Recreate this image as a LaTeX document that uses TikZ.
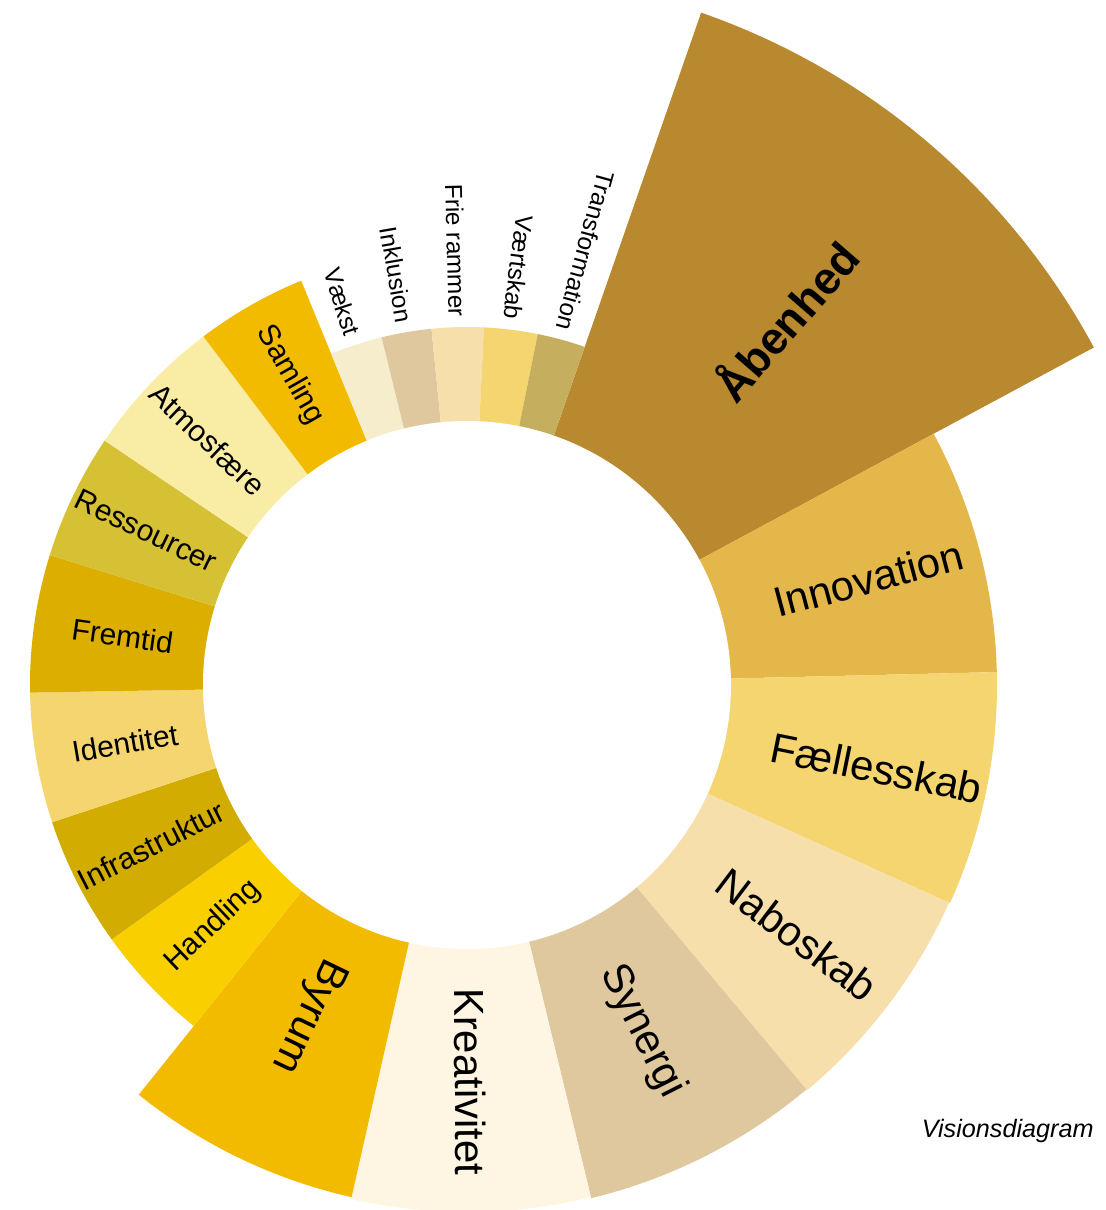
\documentclass[tikz,border=0pt]{standalone}
\usepackage{fontspec}
\setmainfont{Liberation Sans}
\usepackage{tikz}
\usetikzlibrary{calc}

\definecolor{abenhedcol}{HTML}{B8892E}
\definecolor{innovationcol}{HTML}{E3B749}
\definecolor{faellesskabcol}{HTML}{F4D56F}
\definecolor{naboskabcol}{HTML}{F6DFAB}
\definecolor{synergicol}{HTML}{DFC89E}
\definecolor{kreativitetcol}{HTML}{FEF6E2}
\definecolor{byrumcol}{HTML}{F3BB00}
\definecolor{handlingcol}{HTML}{F9CF00}
\definecolor{infracol}{HTML}{D2AC00}
\definecolor{identitetcol}{HTML}{F4D56F}
\definecolor{fremtidcol}{HTML}{DBAE00}
\definecolor{ressourcercol}{HTML}{D6C033}
\definecolor{atmosfaerecol}{HTML}{F9EDA5}
\definecolor{samlingcol}{HTML}{F3BB00}
\definecolor{vaekstcol}{HTML}{F6EDCC}
\definecolor{inklusioncol}{HTML}{DFC89E}
\definecolor{frierammercol}{HTML}{F6DFAB}
\definecolor{vaertskabcol}{HTML}{F4D56F}
\definecolor{transformationcol}{HTML}{C5AF5F}

\begin{document}
\begin{tikzpicture}[x=0.5pt, y=0.5pt]
        \tikzstyle{toplabel} = [font=\bfseries\fontsize{22.5}{26}\selectfont, inner sep=0pt]
        \tikzstyle{biglabel} = [font=\fontsize{21}{24}\selectfont, inner sep=0pt]
        \tikzstyle{midlabel} = [font=\fontsize{15}{18}\selectfont, inner sep=0pt]
        \tikzstyle{smalllabel} = [font=\fontsize{12.2}{14}\selectfont, inner sep=0pt, anchor=east]
        \useasboundingbox (-467,-525) rectangle (639,685);

        % large sectors
        \fill [abenhedcol] (0,0) -- (70.8:712) arc [start angle=70.8, end angle=28.3, radius=712] -- cycle;
        \fill [innovationcol] (0,0) -- (28.3:530) arc [start angle=28.3, end angle=1.4, radius=530] -- cycle;
        \fill [faellesskabcol] (0,0) -- (1.4:530) arc [start angle=1.4, end angle=-24.3, radius=530] -- cycle;
        \fill [naboskabcol] (0,0) -- (-24.3:529) arc [start angle=-24.3, end angle=-50, radius=529] -- cycle;
        \fill [synergicol] (0,0) -- (-50:528) arc [start angle=-50, end angle=-76.4, radius=528] -- cycle;
        \fill [kreativitetcol] (0,0) -- (-76.4:527) arc [start angle=-76.4, end angle=-102.7, radius=527] -- cycle;
        \fill [byrumcol] (0,0) -- (-102.7:525) arc [start angle=-102.7, end angle=-128.7, radius=525] -- cycle;

        % middle sectors
        \fill [handlingcol] (0,0) -- (-128.7:437) arc [start angle=-128.7, end angle=-144.4, radius=437] -- cycle;
        \fill [infracol] (0,0) -- (-144.4:437) arc [start angle=-144.4, end angle=-161.7, radius=437] -- cycle;
        \fill [identitetcol] (0,0) -- (-161.7:437) arc [start angle=-161.7, end angle=-179, radius=437] -- cycle;
        \fill [fremtidcol] (0,0) -- (181:437) arc [start angle=181, end angle=162.7, radius=437] -- cycle;
        \fill [ressourcercol] (0,0) -- (162.7:437) arc [start angle=162.7, end angle=146, radius=437] -- cycle;
        \fill [atmosfaerecol] (0,0) -- (146:437) arc [start angle=146, end angle=127.1, radius=437] -- cycle;
        \fill [samlingcol] (0,0) -- (127.1:437) arc [start angle=127.1, end angle=112.3, radius=437] -- cycle;

        % small sectors
        \fill [vaekstcol] (0,0) -- (112.3:358) arc [start angle=112.3, end angle=103.8, radius=358] -- cycle;
        \fill [inklusioncol] (0,0) -- (103.8:358) arc [start angle=103.8, end angle=95.7, radius=358] -- cycle;
        \fill [frierammercol] (0,0) -- (95.7:358) arc [start angle=95.7, end angle=87.3, radius=358] -- cycle;
        \fill [vaertskabcol] (0,0) -- (87.3:358) arc [start angle=87.3, end angle=78.6, radius=358] -- cycle;
        \fill [transformationcol] (0,0) -- (78.6:358) arc [start angle=78.6, end angle=70.8, radius=358] -- cycle;

        % hole
        \fill [white] (0,0) circle [radius=264];

        % labels
        \node [toplabel, rotate=49, name=abenhed] at (49:484) {Åbenhed};
        \node [biglabel, rotate=14.85, name=innovation] at (14.85:415) {Innovation};
        \node [biglabel, rotate=-11.45, name=faellesskab] at (-11.45:418) {Fællesskab};
        \node [biglabel, rotate=-37.15, name=naboskab] at (-37.15:414) {Naboskab};
        \node [biglabel, rotate=-63.2, name=synergi] at (-63.2:388) {Synergi};
        \node [biglabel, rotate=-89.55, name=kreativitet] at (-89.55:397) {Kreativitet};
        \node [biglabel, rotate=-115.7, name=byrum] at (-115.7:367) {Byrum};

        \node [midlabel, rotate=43.45, name=handling] at (-136.55:350) {Handling};
        \node [midlabel, rotate=26.95, name=infrastruktur] at (-153.05:354) {Infrastruktur};
        \node [midlabel, rotate=9.65, name=identitet] at (-170.35:347) {Identitet};
        \node [midlabel, rotate=-8.15, name=fremtid] at (171.85:348) {Fremtid};
        \node [midlabel, rotate=-25.65, name=ressourcer] at (154.35:356) {Ressourcer};
        \node [midlabel, rotate=-43.45, name=atmosfaere] at (136.55:357) {Atmosfære};
        \node [midlabel, rotate=-60.3, name=samling] at (119.7:357) {Samling};

        \node [smalllabel, rotate=-71.95, name=vaekst] at (108.05:368) {Vækst};
        \node [smalllabel, rotate=-80.25, name=inklusion] at (99.75:368) {Inklusion};
        \node [smalllabel, rotate=-88.5, name=frierammer] at (91.5:368) {Frie rammer};
        \node [smalllabel, rotate=-97.05, name=vaertskab] at (82.95:368) {Værtskab};
        \node [smalllabel, rotate=-105.3, name=transformation] at (74.7:368) {Transformation};

        \node [font=\itshape\fontsize{12.6}{14}\selectfont, inner sep=0pt, anchor=east, name=caption] at (627,-446) {Visionsdiagram};

    \end{tikzpicture}
\end{document}
